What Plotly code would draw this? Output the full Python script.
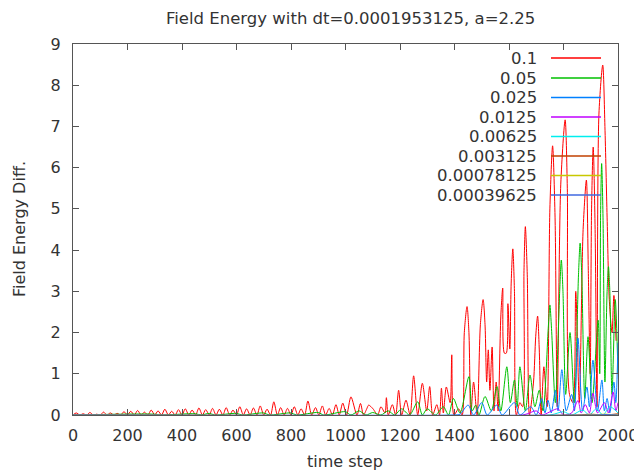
import plotly.graph_objects as go

# ---------------- data ----------------
labels = ["0.1", "0.05", "0.025", "0.0125", "0.00625", "0.003125", "0.00078125", "0.00039625"]
colors = ["#ff0000", "#00c000", "#0080ff", "#c000ff", "#00eeee", "#c04000", "#c8c800", "#4169e1"]

red_t = [0, 12, 25, 37, 50, 62, 75, 87, 100, 112, 125, 137, 150, 162, 175, 187, 200,
         212, 225, 237, 250, 262, 275, 287, 300, 312, 325, 337, 350, 362, 375, 387, 400,
         412, 425, 437, 450, 462, 475, 487, 500, 512, 525, 537, 550, 562, 575, 587, 600,
         612, 625, 637, 650, 662, 675, 687, 700, 712, 725, 737, 750, 762, 775, 787, 800,
         812, 825, 837, 850, 862, 876, 890, 902, 915, 927, 940, 952, 965, 977, 990,
         1004, 1020, 1042, 1055, 1066, 1078, 1085, 1101, 1118, 1130, 1145, 1150, 1157, 1172,
         1184, 1195, 1206, 1222, 1237, 1250, 1265, 1282, 1298, 1309, 1320, 1335, 1345, 1352,
         1359, 1370, 1384, 1390, 1398, 1415, 1428, 1436, 1446, 1453, 1460, 1470, 1483, 1495,
         1505, 1512, 1518, 1524, 1530, 1538, 1545, 1553, 1560, 1570, 1577, 1583, 1590, 1596,
         1603, 1608, 1614, 1620, 1627, 1640, 1650, 1655, 1660, 1667, 1675, 1690, 1698, 1705,
         1711, 1718, 1728, 1740, 1750, 1760, 1769, 1777, 1790, 1806, 1814, 1822, 1835, 1845,
         1858, 1872, 1884, 1891, 1898, 1903, 1909, 1916, 1923, 1930, 1944, 1952, 1960, 1968,
         1978, 1985, 1993, 2000]
red_v = [0, 0.05, 0, 0.03, 0, 0.06, 0, 0.02, 0, 0.07, 0, 0.05, 0, 0.04, 0, 0.08, 0,
         0.09, 0, 0.11, 0, 0.07, 0, 0.12, 0, 0.10, 0, 0.14, 0, 0.09, 0, 0.13, 0,
         0.15, 0, 0.12, 0, 0.17, 0, 0.13, 0, 0.16, 0, 0.14, 0, 0.18, 0, 0.12, 0,
         0.20, 0, 0.15, 0, 0.17, 0, 0.22, 0, 0.14, 0, 0.32, 0, 0.18, 0, 0.16, 0,
         0.20, 0, 0.15, 0, 0.34, 0, 0.18, 0, 0.22, 0, 0.16, 0, 0.25, 0,
         0.29, 0, 0.44, 0, 0.28, 0, 0.15, 0.24, 0.15, 0, 0.20, 0.05, 0.42, 0,
         0.25, 0, 0.60, 0, 0.36, 0, 0.95, 0, 0.77, 0.10, 0.69, 0, 0.25, 0,
         0.65, 0.05, 0.68, 0.30, 1.46, 0, 0.15, 0, 2.00, 2.63, 2.00, 0, 0.80, 0,
         2.20, 2.80, 2.20, 0.80, 1.58, 0.60, 1.65, 0.10, 0.80, 0.10, 2.40, 3.08, 1.50, 1.50,
         2.70, 1.60, 3.20, 4.03, 3.00, 0, 0.30, 0.20, 3.50, 4.57, 3.40, 0, 0.80, 1.90,
         2.40, 1.60, 0, 1.17, 0.20, 5.00, 6.53, 4.80, 0.20, 5.60, 7.16, 5.50, 0.50, 0.30,
         3.00, 0.30, 4.50, 5.70, 3.50, 1.00, 5.00, 6.50, 4.50, 0.20, 7.30, 8.49, 7.00, 4.80,
         2.80, 2.00, 2.90, 1.80]

green_t = [0, 300, 320, 450, 470, 500, 520, 600, 620, 700, 720, 800, 820, 900, 920, 1000,
           1020, 1050, 1075, 1100, 1130, 1157, 1180, 1206, 1235, 1265, 1282, 1300, 1330,
           1359, 1378, 1396, 1420, 1453, 1465, 1478, 1490, 1512, 1535, 1556, 1570, 1592,
           1605, 1620, 1630, 1640, 1660, 1677, 1695, 1711, 1725, 1744, 1750, 1756, 1770,
           1786, 1792, 1798, 1808, 1824, 1840, 1855, 1861, 1867, 1878, 1890, 1905, 1927,
           1933, 1936, 1940, 1945, 1952, 1960, 1965, 1970, 1978, 1990, 2000]
green_v = [0, 0.02, 0, 0.03, 0, 0.04, 0, 0.04, 0, 0.05, 0, 0.05, 0, 0.06, 0, 0.08,
           0, 0.10, 0, 0.06, 0, 0.10, 0, 0.15, 0, 0.32, 0, 0.15, 0,
           0.20, 0, 0.40, 0.05, 0.93, 0.10, 0.24, 0, 0.45, 0.10, 0.69, 0.10, 1.17,
           0.30, 0.85, 0.20, 1.17, 0.10, 0.97, 0.20, 0.60, 0.10, 2.10, 2.67, 2.10, 0.30,
           3.00, 3.76, 3.00, 0.50, 2.00, 0.30, 3.40, 4.17, 3.40, 0.40, 1.90, 0.30, 2.30,
           1.00, 4.80, 6.10, 4.80, 0.80, 3.00, 3.60, 3.00, 0.50, 2.80, 1.00]

blue_t = [0, 1400, 1420, 1450, 1470, 1500, 1520, 1555, 1575, 1620, 1640, 1680, 1700, 1720,
          1732, 1743, 1755, 1770, 1780, 1794, 1810, 1830, 1840, 1853, 1870, 1886, 1895, 1908,
          1925, 1941, 1950, 1960, 1970, 1985, 1992, 2000]
blue_v = [0, 0, 0.02, 0.24, 0, 0.30, 0, 0.24, 0, 0.30, 0, 0.20, 0, 0.40,
          0.05, 0.36, 0.05, 0.60, 0.10, 1.10, 0.10, 0.50, 0.10, 1.87, 0.10, 0.68, 0.20, 1.33,
          0.10, 0.85, 0.10, 0.40, 0.05, 0.80, 0.30, 1.75]

magenta_t = [0, 1650, 1700, 1720, 1780, 1800, 1830, 1853, 1865, 1880, 1895, 1908, 1925,
             1950, 1965, 1982, 1992, 2000]
magenta_v = [0, 0, 0.10, 0, 0.15, 0, 0.05, 0.35, 0.05, 0.25, 0.05, 0.53, 0.05,
             0.30, 0.05, 0.56, 0.10, 0.30]

cyan_t = [0, 1750, 1800, 1830, 1870, 1895, 1920, 1945, 1970, 2000]
cyan_v = [0, 0, 0.08, 0, 0.12, 0, 0.15, 0, 0.20, 0.05]

brown_t = [0, 1850, 1900, 1950, 2000]
brown_v = [0, 0, 0.02, 0, 0.03]

yellow_t = [0, 1900, 1950, 2000]
yellow_v = [0, 0, 0.02, 0]

slate_t = [0, 1900, 1960, 2000]
slate_v = [0, 0, 0.01, 0]

series_t = [red_t, green_t, blue_t, magenta_t, cyan_t, brown_t, yellow_t, slate_t]
series_v = [red_v, green_v, blue_v, magenta_v, cyan_v, brown_v, yellow_v, slate_v]

x_ticks = [0, 200, 400, 600, 800, 1000, 1200, 1400, 1600, 1800, 2000]
y_ticks = [0, 1, 2, 3, 4, 5, 6, 7, 8, 9]

# ---------------- figure ----------------
FONT = "DejaVu Sans"
TXT = "#333333"
FS = 16
OFF = 8                      # page body margin
W, H = 642 - OFF, 472 - OFF
# plot-area edges in screen pixels
L, R, B, T = 73, 618, 415, 44

def px2paper(px, py):
    return (px - L) / (R - L), (B - py) / (B - T)

fig = go.Figure()
for lab, col, tt, vv in zip(labels, colors, series_t, series_v):
    fig.add_trace(go.Scatter(x=tt, y=vv, mode="lines", name=lab,
                             line=dict(color=col, width=1, shape="spline", smoothing=0.8),
                             showlegend=False))

# gnuplot-style key: right-aligned text, sample line to the right
row_y = [58, 78, 97.5, 117, 136.5, 156, 175.5, 195]
for lab, col, ry in zip(labels, colors, row_y):
    xt, yt = px2paper(538, ry)
    fig.add_annotation(x=xt, y=yt, xref="paper", yref="paper", text=lab,
                       showarrow=False, xanchor="right", yanchor="middle", borderpad=0,
                       font=dict(family=FONT, size=16.5, color=TXT))
    x0, y0 = px2paper(551, ry)
    x1, _ = px2paper(601, ry)
    fig.add_shape(type="line", xref="paper", yref="paper", x0=x0, x1=x1, y0=y0, y1=y0,
                  line=dict(color=col, width=1.5))

# axis titles and title placed like gnuplot
xa, ya = px2paper(345, 461)
fig.add_annotation(x=xa, y=ya, xref="paper", yref="paper", text="time step", showarrow=False,
                   xanchor="center", yanchor="middle", borderpad=0,
                   font=dict(family=FONT, size=FS, color=TXT))
xa, ya = px2paper(19, 229)
fig.add_annotation(x=xa, y=ya, xref="paper", yref="paper", text="Field Energy Diff.",
                   showarrow=False, textangle=-90, xanchor="center", yanchor="middle",
                   borderpad=0, font=dict(family=FONT, size=FS, color=TXT))
xa, ya = px2paper(350, 18.5)
fig.add_annotation(x=xa, y=ya, xref="paper", yref="paper",
                   text="Field Energy with dt=0.0001953125, a=2.25", showarrow=False,
                   xanchor="center", yanchor="middle", borderpad=0,
                   font=dict(family=FONT, size=16.5, color=TXT))

fig.update_layout(
    width=W, height=H,
    margin=dict(l=L - OFF, r=642 - R, t=T - OFF, b=472 - B, autoexpand=False),
    paper_bgcolor="white", plot_bgcolor="white",
    font=dict(family=FONT, size=FS, color=TXT),
)
axis_common = dict(showgrid=False, zeroline=False, showline=True, linecolor="#555555",
                   linewidth=1, mirror="ticks", ticks="inside", ticklen=6, automargin=False,
                   tickcolor="#555555", tickfont=dict(family=FONT, size=FS, color=TXT))
fig.update_xaxes(range=[0, 2000], tickvals=x_ticks, ticktext=[str(v) for v in x_ticks],
                 ticklabelstandoff=6, **axis_common)
fig.update_yaxes(range=[0, 9], tickvals=y_ticks, ticktext=[str(v) for v in y_ticks],
                 ticklabelstandoff=8, **axis_common)

fig.write_html("out.html")
